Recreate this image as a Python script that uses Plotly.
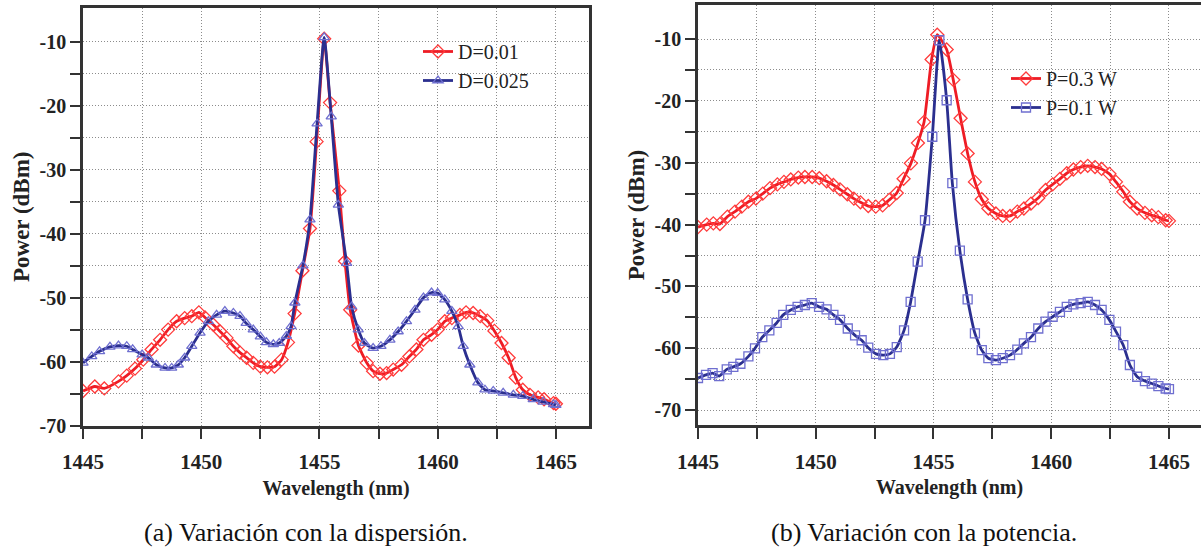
import plotly.graph_objects as go

# ---------------- data ----------------
# (a) dispersion variation
wl_d001 = [1445, 1445.5, 1445.9, 1446.5, 1446.85, 1447.2, 1447.55, 1447.9, 1448.26, 1448.6,
           1448.96, 1449.3, 1449.6, 1449.9, 1450.16, 1450.5, 1450.8, 1451.07, 1451.36, 1451.64,
           1451.92, 1452.2, 1452.5, 1452.8, 1453.1, 1453.4, 1453.67, 1453.95, 1454.28, 1454.6,
           1454.88, 1455.2, 1455.45, 1455.84, 1456.08, 1456.3, 1456.65, 1457.0, 1457.27, 1457.56,
           1457.84, 1458.12, 1458.47, 1458.8, 1459.1, 1459.4, 1459.74, 1460.0, 1460.3, 1460.6,
           1460.94, 1461.2, 1461.5, 1461.8, 1462.1, 1462.4, 1462.7, 1463.0, 1463.3, 1463.6,
           1463.9, 1464.25, 1464.5, 1464.9, 1465]
p_d001 = [-64.6, -63.9, -64.2, -63.1, -62.2, -61.1, -59.7, -58.1, -56.6, -55.0,
          -53.7, -53.2, -52.9, -52.3, -53.1, -54.2, -55.3, -56.3, -57.6, -58.6,
          -59.4, -60.2, -60.8, -60.9, -60.8, -59.7, -57.0, -52.5, -45.8, -39.2,
          -25.6, -9.5, -19.5, -33.3, -44.3, -51.9, -57.5, -60.2, -61.5, -61.9,
          -61.8, -61.25, -60.5, -59.2, -58.1, -56.6, -55.8, -55.0, -53.7, -53.2,
          -52.7, -52.3, -52.4, -52.9, -53.6, -55.2, -57.1, -59.4, -62.5, -64.4,
          -65.2, -65.6, -65.9, -66.5, -66.6]

wl_d0025 = [1445, 1445.37, 1445.7, 1446.14, 1446.5, 1446.85, 1447.1, 1447.5, 1447.76, 1448.1,
            1448.47, 1448.75, 1449.03, 1449.3, 1449.6, 1449.95, 1450.3, 1450.65, 1451.0, 1451.36,
            1451.64, 1451.9, 1452.2, 1452.5, 1452.76, 1453.05, 1453.3, 1453.6, 1453.8, 1453.96,
            1454.3, 1454.6, 1454.9, 1455.2, 1455.5, 1455.8, 1456.15, 1456.36, 1456.64, 1456.9,
            1457.27, 1457.6, 1457.98, 1458.33, 1458.68, 1459.04, 1459.4, 1459.74, 1460.0, 1460.3,
            1460.6, 1460.87, 1461.08, 1461.36, 1461.7, 1462.0, 1462.35, 1462.77, 1463.2, 1463.6,
            1464.04, 1464.46, 1464.9, 1465]
p_d0025 = [-60.2, -59.2, -58.4, -57.7, -57.5, -57.6, -58.1, -58.9, -59.4, -60.5,
           -61.0, -61.0, -60.5, -59.4, -57.6, -55.5, -53.7, -52.7, -52.1, -52.4,
           -52.9, -54.0, -55.0, -56.1, -57.0, -57.3, -57.1, -56.0, -54.5, -50.8,
           -45.0, -37.8, -22.8, -9.3, -21.7, -35.5, -44.6, -51.4, -55.0, -57.1,
           -57.9, -57.6, -56.6, -55.3, -53.7, -51.9, -50.0, -49.2, -49.3, -50.3,
           -52.1, -54.5, -57.6, -60.5, -63.3, -64.4, -64.6, -64.9, -65.2, -65.4,
           -65.9, -66.3, -66.7, -66.8]

# (b) power variation
wl_p03 = [1445, 1445.37, 1445.65, 1445.93, 1446.25, 1446.57, 1446.86, 1447.14, 1447.46, 1447.75,
          1448.06, 1448.37, 1448.65, 1448.94, 1449.26, 1449.54, 1449.85, 1450.15, 1450.46, 1450.75,
          1451.03, 1451.34, 1451.62, 1451.9, 1452.23, 1452.55, 1452.84, 1453.12, 1453.44, 1453.73,
          1454.04, 1454.34, 1454.6, 1454.92, 1455.16, 1455.56, 1455.84, 1456.15, 1456.45, 1456.76,
          1457.05, 1457.33, 1457.65, 1457.94, 1458.25, 1458.56, 1458.84, 1459.14, 1459.45, 1459.76,
          1460.06, 1460.37, 1460.66, 1460.94, 1461.25, 1461.55, 1461.86, 1462.14, 1462.47, 1462.75,
          1463.06, 1463.34, 1463.65, 1463.98, 1464.27, 1464.55, 1464.86, 1465]
p_p03 = [-40.4, -40.0, -39.8, -39.9, -38.7, -37.9, -37.1, -36.3, -35.8, -35.0,
         -34.1, -33.5, -33.1, -32.7, -32.4, -32.3, -32.3, -32.5, -33.0, -33.6,
         -34.3, -35.1, -35.8, -36.4, -37.0, -37.1, -36.9, -36.0, -34.9, -32.6,
         -30.1, -26.8, -23.4, -13.3, -9.3, -11.7, -16.6, -22.8, -28.5, -33.1,
         -35.9, -37.4, -38.2, -38.6, -38.6, -37.9, -37.4, -36.6, -35.7, -34.4,
         -33.5, -32.6, -31.7, -31.1, -30.7, -30.5, -30.7, -31.0, -31.8, -33.1,
         -34.7, -36.3, -37.4, -38.1, -38.5, -38.8, -39.3, -39.4]

wl_p01 = [1445, 1445.34, 1445.62, 1445.9, 1446.22, 1446.5, 1446.8, 1447.14, 1447.42, 1447.73,
          1448.03, 1448.34, 1448.62, 1448.94, 1449.23, 1449.54, 1449.83, 1450.14, 1450.46, 1450.75,
          1451.03, 1451.36, 1451.67, 1451.95, 1452.23, 1452.56, 1452.87, 1453.15, 1453.44, 1453.75,
          1454.03, 1454.33, 1454.64, 1454.95, 1455.25, 1455.56, 1455.8, 1456.12, 1456.45, 1456.76,
          1457.05, 1457.33, 1457.65, 1457.94, 1458.25, 1458.56, 1458.84, 1459.14, 1459.45, 1459.76,
          1460.06, 1460.37, 1460.66, 1460.94, 1461.25, 1461.55, 1461.86, 1462.14, 1462.47, 1462.75,
          1463.06, 1463.34, 1463.65, 1463.98, 1464.27, 1464.55, 1464.86, 1465]
p_p01 = [-64.8, -64.3, -64.0, -64.5, -63.4, -63.0, -62.5, -61.3, -60.0, -58.2,
         -57.1, -55.9, -54.6, -53.8, -53.3, -53.0, -52.7, -53.3, -53.7, -54.6,
         -55.4, -56.8, -57.9, -58.7, -59.9, -60.9, -61.1, -60.9, -59.8, -57.1,
         -52.5, -46.0, -39.3, -25.8, -10.2, -19.9, -33.3, -44.2, -52.1, -57.6,
         -60.3, -61.6, -61.9, -61.6, -61.1, -60.2, -59.2, -58.2, -56.8, -55.7,
         -54.9, -54.1, -53.3, -52.9, -52.7, -52.5, -53.0, -53.8, -55.4, -57.3,
         -59.5, -62.7, -64.6, -65.3, -65.7, -66.1, -66.5, -66.6]

x_ticks = [1445, 1447.5, 1450, 1452.5, 1455, 1457.5, 1460, 1462.5, 1465]
x_labels = ["1445", "", "1450", "", "1455", "", "1460", "", "1465"]
y_ticks = [-70, -65, -60, -55, -50, -45, -40, -35, -30, -25, -20, -15, -10]
y_labels = ["-70", "", "-60", "", "-50", "", "-40", "", "-30", "", "-20", "", "-10"]

captions = ["(a) Variación con la dispersión.", "(b) Variación con la potencia."]

# ---------------- style ----------------
W, H = 1201, 550
RED = "#ee1c25"
RED_M = "#ff3b3b"
BLUE = "#2b2f8f"
BLUE_M = "#6f6fd0"
AX = "#333333"
SERIF = "Liberation Serif"

fig = go.Figure()

def add(x, y, name, color, mcolor, symbol, msize, xa, ya, leg):
    fig.add_trace(go.Scatter(
        x=x, y=y, name=name, mode="lines+markers", xaxis=xa, yaxis=ya, legend=leg,
        line=dict(color=color, width=2.8, shape="spline", smoothing=0.5),
        marker=dict(symbol=symbol, size=msize, color=mcolor, line=dict(color=mcolor, width=1.3)),
    ))

add(wl_d001, p_d001, "D=0.01", RED, RED_M, "diamond-open", 10, "x", "y", "legend")
add(wl_d0025, p_d0025, "D=0.025", BLUE, BLUE_M, "triangle-up-open", 9, "x", "y", "legend")
add(wl_p03, p_p03, "P=0.3 W", RED, RED_M, "diamond-open", 10, "x2", "y2", "legend2")
add(wl_p01, p_p01, "P=0.1 W", BLUE, BLUE_M, "square-open", 9, "x2", "y2", "legend2")

GRID = dict(showgrid=True, gridcolor="#8c8c8c", gridwidth=1, griddash="1px,2px", zeroline=False)

def xax(domain, rng, anchor):
    return dict(domain=domain, range=rng, anchor=anchor, automargin=False,
                tickmode="array", tickvals=x_ticks, ticktext=x_labels,
                ticks="outside", ticklen=11, tickwidth=2, tickcolor=AX,
                ticklabelstandoff=5,
                showline=True, linecolor=AX, linewidth=2.5, mirror=True,
                tickfont=dict(family=SERIF, size=21, color="#222", weight="bold"),
                title=dict(text="Wavelength (nm)", standoff=8,
                           font=dict(family=SERIF, size=20, color="#222", weight="bold")),
                **GRID)

def yax(domain, rng, anchor, mirror):
    return dict(domain=domain, range=rng, anchor=anchor, automargin=False,
                tickmode="array", tickvals=y_ticks, ticktext=y_labels,
                ticks="outside", ticklen=10, tickwidth=2, tickcolor=AX,
                showline=True, linecolor=AX, linewidth=2.5, mirror=mirror,
                tickfont=dict(family=SERIF, size=20, color="#222", weight="bold"),
                title=dict(text="Power (dBm)", standoff=4,
                           font=dict(family=SERIF, size=23, color="#222", weight="bold")),
                **GRID)

fig.update_layout(
    width=W, height=H, autosize=False,
    margin=dict(l=0, r=0, t=0, b=0),
    paper_bgcolor="white", plot_bgcolor="white",
    xaxis=xax([83 / W, 589 / W], [1445, 1466.4], "y"),
    yaxis=yax([(H - 425.5) / H, (H - 8) / H], [-70, -4.7], "x", True),
    xaxis2=xax([698 / W, 1.0], [1445, 1466.36], "y2"),
    yaxis2=yax([(H - 425) / H, (H - 5) / H], [-72.4, -4.5], "x2", False),
    legend=dict(x=418 / W, y=(H - 32) / H, xanchor="left", yanchor="top",
                bgcolor="rgba(0,0,0,0)", font=dict(family=SERIF, size=20, color="#222")),
    legend2=dict(x=1006 / W, y=(H - 59) / H, xanchor="left", yanchor="top",
                 bgcolor="rgba(0,0,0,0)", font=dict(family=SERIF, size=20, color="#222")),
    showlegend=True,
)

for cx, txt in zip([306, 924], captions):
    fig.add_annotation(text=txt, x=cx / W, y=(H - 532) / H, xref="paper", yref="paper",
                       xanchor="center", yanchor="middle", showarrow=False,
                       font=dict(family=SERIF, size=26, color="#111"))

fig.write_html("out.html")
